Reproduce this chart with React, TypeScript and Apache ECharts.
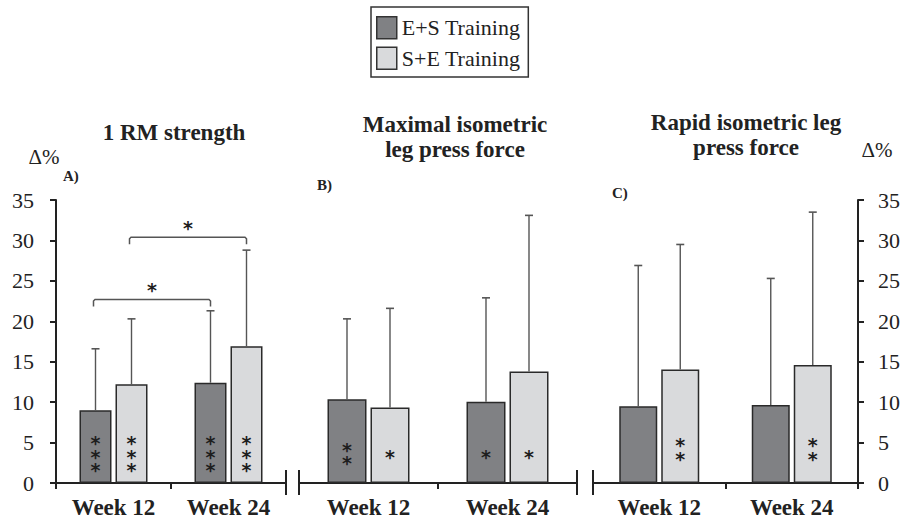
import React, { useEffect, useRef } from "react";
import * as echarts from "echarts";

const categories = ["Week 12", "Week 24"];
const seriesNames = ["E+S Training", "S+E Training"];
const panelTitles = ["1 RM strength", "Maximal isometric\nleg press force", "Rapid isometric leg\npress force"];
const panelLetters = ["A)", "B)", "C)"];
const yTicks = { min: 0, max: 35, interval: 5 };

// Panel A: 1 RM strength
const esMeanA = [9.0, 12.4];
const esSdA = [7.6, 8.9];
const seMeanA = [12.2, 16.9];
const seSdA = [8.1, 11.9];
const esSigA = ["***", "***"];
const seSigA = ["***", "***"];

// Panel B: maximal isometric leg press force
const esMeanB = [10.35, 10.05];
const esSdB = [9.95, 12.85];
const seMeanB = [9.35, 13.8];
const seSdB = [12.25, 19.3];
const esSigB = ["**", "*"];
const seSigB = ["*", "*"];

// Panel C: rapid isometric leg press force
const esMeanC = [9.5, 9.65];
const esSdC = [17.4, 15.65];
const seMeanC = [14.05, 14.6];
const seSdC = [15.45, 18.9];
const esSigC = ["", ""];
const seSigC = ["**", "**"];

// Between-time comparison brackets in panel A: [category, series] -> [category, series]
const bracketFrom = [[0, 0], [0, 1]];
const bracketTo = [[1, 0], [1, 1]];
const bracketY = [22.7, 30.4];
const bracketLabel = ["*", "*"];

const FONT = "'Liberation Serif', 'Times New Roman', serif";
const STAR_FONT = "'DejaVu Sans', sans-serif";
const DARK = "#808184";
const LIGHT = "#d9dadc";
const INK = "#222";
const ERR = "#555";

const panels = [
  { left: 56, width: 230, barW: 32, sigY: 3.25, titleX: 174, titleY: 120, letterX: 63, letterY: 176 },
  { left: 299, width: 278, barW: 39, sigY: 3.25, titleX: 455, titleY: 112, letterX: 317, letterY: 185 },
  { left: 593, width: 269, barW: 38, sigY: 3.85, titleX: 746, titleY: 110, letterX: 612, letterY: 193 },
];
const GAP = 4;
const TOP = 200;
const BOTTOM = 36;
const H = 519;

const esMeans = [esMeanA, esMeanB, esMeanC];
const esSds = [esSdA, esSdB, esSdC];
const seMeans = [seMeanA, seMeanB, seMeanC];
const seSds = [seSdA, seSdB, seSdC];
const sigs = [
  [esSigA, seSigA],
  [esSigB, seSigB],
  [esSigC, seSigC],
];

export default function App() {
  const ref = useRef<HTMLDivElement>(null);
  useEffect(() => {
    if (!ref.current) return;
    const chart = echarts.init(ref.current, undefined, { renderer: "svg" });

    const series: any[] = [];
    panels.forEach((p, i) => {
      const gapPct = (GAP / p.barW) * 100 + "%";
      series.push({
        type: "bar",
        name: seriesNames[0],
        xAxisIndex: i,
        yAxisIndex: i,
        data: esMeans[i],
        barWidth: p.barW,
        barGap: gapPct,
        itemStyle: { color: DARK, borderColor: "#2a2a2a", borderWidth: 1.5 },
        z: 2,
      });
      series.push({
        type: "bar",
        name: seriesNames[1],
        xAxisIndex: i,
        yAxisIndex: i,
        data: seMeans[i],
        barWidth: p.barW,
        barGap: gapPct,
        itemStyle: { color: LIGHT, borderColor: "#2a2a2a", borderWidth: 1.5 },
        z: 2,
      });
      const errData: number[][] = [];
      [0, 1].forEach((s) => {
        [0, 1].forEach((c) => {
          const m = s === 0 ? esMeans[i][c] : seMeans[i][c];
          const sd = s === 0 ? esSds[i][c] : seSds[i][c];
          errData.push([c, m, sd, s]);
        });
      });
      series.push({
        type: "custom",
        xAxisIndex: i,
        yAxisIndex: i,
        z: 5,
        silent: true,
        data: errData,
        renderItem: (params: any, api: any) => {
          const c = api.value(0);
          const m = api.value(1);
          const sd = api.value(2);
          const s = api.value(3);
          const base = api.coord([c, m]);
          const top = api.coord([c, m + sd]);
          const off = (s === 0 ? -1 : 1) * (p.barW + GAP) / 2;
          const x = base[0] + off;
          const sig = sigs[i][s][c];
          const sp = api.coord([c, p.sigY]);
          const children: any[] = [
            { type: "line", shape: { x1: x, y1: base[1], x2: x, y2: top[1] }, style: { stroke: ERR, lineWidth: 1.4 } },
            { type: "line", shape: { x1: x - 4, y1: top[1], x2: x + 4, y2: top[1] }, style: { stroke: ERR, lineWidth: 1.6 } },
          ];
          if (sig) {
            children.push({
              type: "text",
              x: x,
              y: sp[1],
              style: {
                text: sig.split("").join("\n"),
                fill: "#1e1e1e",
                font: `bold 19px ${STAR_FONT}`,
                align: "center",
                verticalAlign: "middle",
                lineHeight: 13.5,
              },
            });
          }
          return { type: "group", children };
        },
      });
    });

    // brackets in panel A
    const pA = panels[0];
    series.push({
      type: "custom",
      xAxisIndex: 0,
      yAxisIndex: 0,
      z: 5,
      silent: true,
      data: bracketY.map((y, k) => [bracketFrom[k][0], bracketFrom[k][1], bracketTo[k][0], bracketTo[k][1], y]),
      renderItem: (params: any, api: any) => {
        const k = params.dataIndex;
        const c1 = api.value(0), s1 = api.value(1), c2 = api.value(2), s2 = api.value(3), y = api.value(4);
        const half = (pA.barW + GAP) / 2;
        const a = api.coord([c1, y]);
        const b = api.coord([c2, y]);
        const x1 = a[0] + (s1 === 0 ? -half : half) - 2;
        const x2 = b[0] + (s2 === 0 ? -half : half);
        const yy = a[1];
        return {
          type: "group",
          children: [
            {
              type: "polyline",
              shape: { points: [[x1, yy + 7], [x1, yy + 1.5], [x1 + 1.5, yy], [x2 - 1.5, yy], [x2, yy + 1.5], [x2, yy + 7]] },
              style: { stroke: ERR, lineWidth: 1.5, fill: "none" },
            },
            {
              type: "text",
              x: (x1 + x2) / 2,
              y: yy - 9,
              style: { text: bracketLabel[k], fill: "#1e1e1e", font: `bold 19px ${STAR_FONT}`, align: "center", verticalAlign: "middle" },
            },
          ],
        };
      },
    });

    const baseY = H - BOTTOM;
    const breakX = [panels[0].left + panels[0].width, panels[1].left, panels[1].left + panels[1].width, panels[2].left];
    const graphic: any[] = breakX.map((x) => ({
      type: "line",
      shape: { x1: x, y1: baseY - 13, x2: x, y2: baseY + 12 },
      style: { stroke: INK, lineWidth: 2 },
      z: 10,
    }));
    graphic.push({ type: "text", x: 44, y: 157, style: { text: "Δ%", font: `21px ${FONT}`, fill: INK, align: "center", verticalAlign: "middle" } });
    graphic.push({ type: "text", x: 877, y: 150, style: { text: "Δ%", font: `21px ${FONT}`, fill: INK, align: "center", verticalAlign: "middle" } });
    panels.forEach((p, i) => {
      graphic.push({ type: "text", x: p.letterX, y: p.letterY, style: { text: panelLetters[i], font: `bold 15px ${FONT}`, fill: INK, align: "left", verticalAlign: "middle" } });
    });

    const option: any = {
      animation: false,
      backgroundColor: "#ffffff",
      title: panels.map((p, i) => ({
        text: panelTitles[i],
        left: p.titleX,
        top: p.titleY,
        textAlign: "center",
        padding: 0,
        textStyle: { fontFamily: FONT, fontWeight: "bold", fontSize: 23, color: INK, lineHeight: 25 },
      })),
      legend: {
        orient: "vertical",
        left: 371,
        top: 7,
        itemWidth: 20,
        itemHeight: 22,
        itemGap: 7,
        padding: [9, 8, 7, 5],
        borderColor: "#333",
        borderWidth: 1.5,
        icon: "rect",
        data: seriesNames,
        itemStyle: { borderColor: "#333", borderWidth: 1.5 },
        textStyle: { fontFamily: FONT, fontSize: 22, color: INK },
      },
      grid: panels.map((p) => ({ left: p.left, width: p.width, top: TOP, bottom: BOTTOM })),
      xAxis: panels.map((p, i) => ({
        type: "category",
        gridIndex: i,
        data: categories,
        axisLine: { lineStyle: { color: INK, width: 2 } },
        axisTick: { show: true, length: 6, lineStyle: { color: INK, width: 2 } },
        axisLabel: { fontFamily: FONT, fontWeight: "bold", fontSize: 23, color: INK, margin: 13 },
      })),
      yAxis: panels.map((p, i) => ({
        type: "value",
        gridIndex: i,
        min: yTicks.min,
        max: yTicks.max,
        interval: yTicks.interval,
        show: i !== 1,
        position: i === 2 ? "right" : "left",
        axisLine: { show: true, lineStyle: { color: INK, width: 2 } },
        axisTick: { show: true, length: 6, lineStyle: { color: INK, width: 2 } },
        splitLine: { show: false },
        axisLabel: { fontFamily: FONT, fontSize: 22, color: INK, margin: i === 2 ? 20 : 22 },
      })),
      series,
      graphic,
    };
    chart.setOption(option);
    return () => chart.dispose();
  }, []);
  return <div ref={ref} style={{ position: "fixed", left: 0, top: 0, width: 903, height: 519 }} />;
}
